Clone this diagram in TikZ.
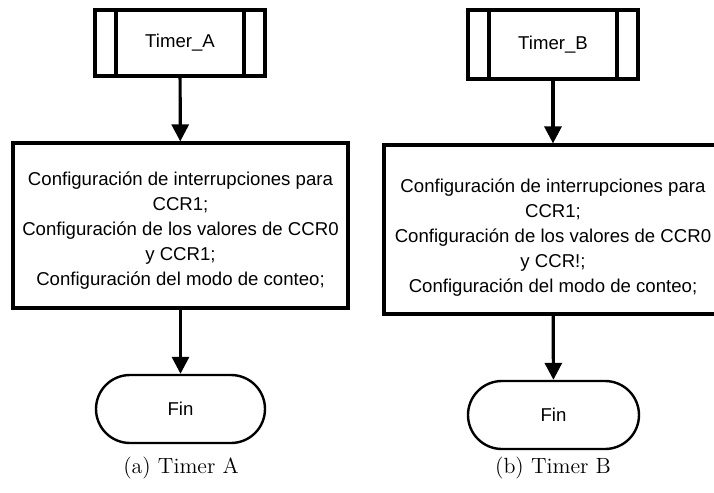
\documentclass[tikz,border=0pt]{standalone}
\usepackage{fontspec}
\newfontfamily\arial{Liberation Sans}
\usetikzlibrary{
    positioning,
    arrows.meta
}
\tikzset{
    >=Stealth,
    bloque/.style={
        draw,
        line width=1.6pt,
        align=center,
        font=\arial\fontsize{9.3}{12.6}\selectfont,
        inner sep=2pt
    },
    subrutina/.style={
        bloque,
        minimum width=85pt,
        path picture={
            \draw[line width=1.6pt]
                ([xshift=10.5pt]path picture bounding box.north west) --
                ([xshift=10.5pt]path picture bounding box.south west)
                ([xshift=-10.5pt]path picture bounding box.north east) --
                ([xshift=-10.5pt]path picture bounding box.south east);
        }
    },
    terminal/.style={
        bloque,
        line width=1.2pt,
        rounded corners=17pt,
        minimum height=34pt
    },
    flecha/.style={
        -{Triangle[length=8.5pt,width=8.5pt]},
        line width=1.6pt
    },
    leyenda/.style={
        font=\fontsize{11}{13}\selectfont
    }
}

\begin{document}
\begin{tikzpicture}[
    x=0.5pt,
    y=-0.5pt
]
    \useasboundingbox (0,0) rectangle (714,493);

    % Timer A
    \node[subrutina, minimum height=33pt]   (timerA) at (180,43)    {Timer\_A};
    \node[bloque, minimum width=167.5pt, minimum height=82.5pt]
                                            (confA)  at (180.5,225.5)
        {\rule{0pt}{12pt}Configuración de interrupciones para\\ CCR1;\\
         Configuración de los valores de CCR0\\ y CCR1;\\
         Configuración del modo de conteo;};
    \node[terminal, minimum width=84.5pt]   (finA)   at (180.5,409) {Fin};
    \node[leyenda]                          (capA)   at (181,468)   {(a) Timer A};

    % Timer B
    \node[subrutina, minimum height=34.5pt] (timerB) at (553,44.5)  {Timer\_B};
    \node[bloque, minimum width=169pt, minimum height=84.5pt]
                                            (confB)  at (553,229.5)
        {\rule{0pt}{15pt}Configuración de interrupciones para\\ CCR1;\\
         Configuración de los valores de CCR0\\ y CCR!;\\
         Configuración del modo de conteo;};
    \node[terminal, minimum width=85.5pt]   (finB)   at (553.5,415) {Fin};
    \node[leyenda]                          (capB)   at (553,468)   {(b) Timer B};

    % Flechas
    \draw[flecha] (timerA) -- (confA);
    \draw[flecha] (confA)  -- (finA);
    \draw[flecha] (timerB) -- (confB);
    \draw[flecha] (confB)  -- (finB);

\end{tikzpicture}
\end{document}
